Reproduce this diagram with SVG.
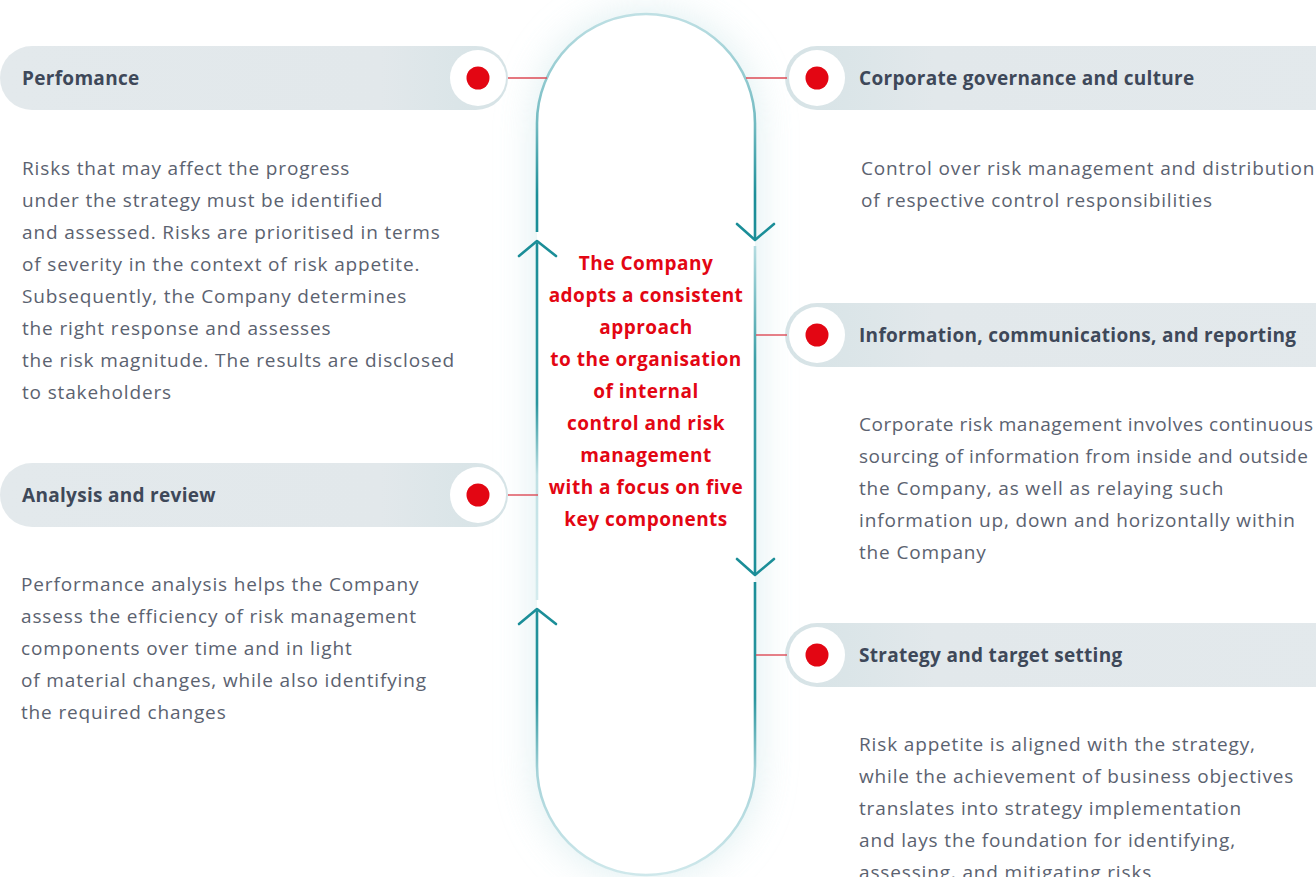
<svg xmlns="http://www.w3.org/2000/svg" width="1316" height="877" viewBox="0 0 1316 877">
  <defs>
    <style>
      .head { font-family: "Open Sans", "Liberation Sans", sans-serif; font-size: 19px; font-weight: 700; letter-spacing: 0.3px; fill: #3e4859; }
      .body { font-family: "Open Sans", "Liberation Sans", sans-serif; font-size: 19px; letter-spacing: 0.85px; fill: #5b6270; }
      .tight { letter-spacing: 0.55px; }
      .core { font-family: "Open Sans", "Liberation Sans", sans-serif; font-size: 19px; font-weight: 700; letter-spacing: 0.5px; fill: #e30613; text-anchor: middle; }
      .tab { stroke: none; }
      .ring { fill: #ffffff; }
      .dot { fill: #e30613; }
      .tie { stroke: #dd4a55; stroke-width: 1.4; fill: none; }
      .chev { stroke: #1b8e98; stroke-width: 2.6; fill: none; stroke-linecap: round; stroke-linejoin: round; }
      .rim { stroke-width: 2.6; fill: none; }
    </style>
    <linearGradient id="tabL" x1="0" y1="0" x2="1" y2="0">
      <stop offset="0" stop-color="#e3e9ec"/>
      <stop offset="0.75" stop-color="#e2e8eb"/>
      <stop offset="1" stop-color="#d6e3e6"/>
    </linearGradient>
    <linearGradient id="tabR" x1="0" y1="0" x2="1" y2="0">
      <stop offset="0" stop-color="#d6e3e6"/>
      <stop offset="0.25" stop-color="#e2e8eb"/>
      <stop offset="1" stop-color="#e3e9ec"/>
    </linearGradient>
    <linearGradient id="rimTop" gradientUnits="userSpaceOnUse" x1="0" y1="14" x2="0" y2="240">
      <stop offset="0" stop-color="#bfe0e4"/>
      <stop offset="0.5" stop-color="#6fb9c0"/>
      <stop offset="0.8" stop-color="#1b8e98"/>
      <stop offset="1" stop-color="#1b8e98"/>
    </linearGradient>
    <linearGradient id="rimLeftMid" gradientUnits="userSpaceOnUse" x1="0" y1="243" x2="0" y2="600">
      <stop offset="0" stop-color="#1b8e98"/>
      <stop offset="0.45" stop-color="#2a969f"/>
      <stop offset="0.65" stop-color="#bfe0e4"/>
      <stop offset="1" stop-color="#d4ebee"/>
    </linearGradient>
    <linearGradient id="rimRightMid" gradientUnits="userSpaceOnUse" x1="0" y1="246" x2="0" y2="574">
      <stop offset="0" stop-color="#b5dce1"/>
      <stop offset="0.35" stop-color="#3a9ea6"/>
      <stop offset="1" stop-color="#1b8e98"/>
    </linearGradient>
    <linearGradient id="rimBottom" gradientUnits="userSpaceOnUse" x1="0" y1="580" x2="0" y2="876">
      <stop offset="0" stop-color="#1b8e98"/>
      <stop offset="0.4" stop-color="#2a969f"/>
      <stop offset="0.65" stop-color="#a6d3d9"/>
      <stop offset="1" stop-color="#cfe8eb"/>
    </linearGradient>
    <filter id="haze" x="-50%" y="-20%" width="200%" height="140%">
      <feGaussianBlur stdDeviation="20"/>
    </filter>
  </defs>

  <rect width="1316" height="877" fill="#ffffff"/>

  <!-- tab backgrounds -->
  <g id="tab-backgrounds">
    <rect class="tab" x="0" y="46" width="508" height="64" rx="32" fill="url(#tabL)"/>
    <rect class="tab" x="0" y="463" width="508" height="64" rx="32" fill="url(#tabL)"/>
    <rect class="tab" x="785" y="46" width="600" height="64" rx="32" fill="url(#tabR)"/>
    <rect class="tab" x="785" y="303" width="600" height="64" rx="32" fill="url(#tabR)"/>
    <rect class="tab" x="785" y="623" width="600" height="64" rx="32" fill="url(#tabR)"/>
  </g>

  <!-- central loop -->
  <g id="core">
    <rect x="537" y="14" width="218" height="862" rx="109" fill="#cfe7ea" opacity="0.75" filter="url(#haze)"/>
    <rect x="537" y="14" width="218" height="862" rx="109" fill="#ffffff"/>
    <g class="core">
      <text x="646" y="270">The Company</text>
      <text x="646" y="302">adopts a consistent</text>
      <text x="646" y="334">approach</text>
      <text x="646" y="366">to the organisation</text>
      <text x="646" y="398">of internal</text>
      <text x="646" y="430">control and risk</text>
      <text x="646" y="462">management</text>
      <text x="646" y="494">with a focus on five</text>
      <text x="646" y="526">key components</text>
    </g>
  </g>

  <!-- connectors: loop outline with direction chevrons, and red ties to each tab -->
  <g id="connectors">
    <path class="rim" stroke="url(#rimTop)" d="M537 232 L537 123 A109 109 0 0 1 755 123 L755 240"/>
    <path class="rim" stroke="url(#rimLeftMid)" d="M537 243 L537 600"/>
    <path class="rim" stroke="url(#rimRightMid)" d="M755 246 L755 574"/>
    <path class="rim" stroke="url(#rimBottom)" d="M537 611 L537 766 A109 109 0 0 0 755 766 L755 582"/>
    <path class="chev" d="M519 256 L537 241 L556 256"/>
    <path class="chev" d="M519 624 L537 609 L556 624"/>
    <path class="chev" d="M737 224 L755 240 L774 224"/>
    <path class="chev" d="M737 559 L755 575 L774 559"/>
    <path class="tie" d="M508 78 H547"/>
    <path class="tie" d="M508 495 H538"/>
    <path class="tie" d="M746 78 H787"/>
    <path class="tie" d="M756 335 H787"/>
    <path class="tie" d="M756 655 H787"/>
  </g>

  <g id="performance">
    <circle class="ring" cx="478" cy="78" r="28"/>
    <circle class="dot" cx="478" cy="78" r="11.5"/>
    <text class="head" x="22" y="85">Perfomance</text>
    <g class="body">
      <text x="22" y="174.5">Risks that may affect the progress</text>
      <text x="22" y="206.5">under the strategy must be identified</text>
      <text x="22" y="238.5">and assessed. Risks are prioritised in terms</text>
      <text x="22" y="270.5">of severity in the context of risk appetite.</text>
      <text x="22" y="302.5">Subsequently, the Company determines</text>
      <text x="22" y="334.5">the right response and assesses</text>
      <text x="22" y="366.5">the risk magnitude. The results are disclosed</text>
      <text x="22" y="398.5">to stakeholders</text>
    </g>
  </g>

  <g id="analysis">
    <circle class="ring" cx="478" cy="495" r="28"/>
    <circle class="dot" cx="478" cy="495" r="11.5"/>
    <text class="head" x="22" y="502">Analysis and review</text>
    <g class="body">
      <text x="21" y="590.5">Performance analysis helps the Company</text>
      <text x="21" y="622.5">assess the efficiency of risk management</text>
      <text x="21" y="654.5">components over time and in light</text>
      <text x="21" y="686.5">of material changes, while also identifying</text>
      <text x="21" y="718.5">the required changes</text>
    </g>
  </g>

  <g id="governance">
    <circle class="ring" cx="817" cy="78" r="28"/>
    <circle class="dot" cx="817" cy="78" r="11.5"/>
    <text class="head" x="859" y="85">Corporate governance and culture</text>
    <g class="body">
      <text x="861" y="174.5">Control over risk management and distribution</text>
      <text x="861" y="206.5">of respective control responsibilities</text>
    </g>
  </g>

  <g id="information">
    <circle class="ring" cx="817" cy="335" r="28"/>
    <circle class="dot" cx="817" cy="335" r="11.5"/>
    <text class="head" x="859" y="342">Information, communications, and reporting</text>
    <g class="body">
      <text class="tight" x="859" y="430.5">Corporate risk management involves continuous</text>
      <text class="tight" x="859" y="462.5">sourcing of information from inside and outside</text>
      <text x="859" y="494.5">the Company, as well as relaying such</text>
      <text x="859" y="526.5">information up, down and horizontally within</text>
      <text x="859" y="558.5">the Company</text>
    </g>
  </g>

  <g id="strategy">
    <circle class="ring" cx="817" cy="655" r="28"/>
    <circle class="dot" cx="817" cy="655" r="11.5"/>
    <text class="head" x="859" y="662">Strategy and target setting</text>
    <g class="body">
      <text x="859" y="750.5">Risk appetite is aligned with the strategy,</text>
      <text x="859" y="782.5">while the achievement of business objectives</text>
      <text x="859" y="814.5">translates into strategy implementation</text>
      <text x="859" y="846.5">and lays the foundation for identifying,</text>
      <text x="859" y="878.5">assessing, and mitigating risks</text>
    </g>
  </g>
</svg>
